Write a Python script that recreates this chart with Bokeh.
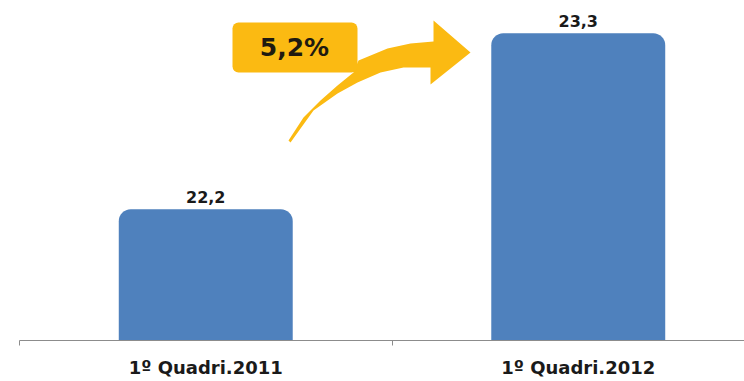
from bokeh.plotting import figure
from bokeh.models import Range1d, FixedTicker, ColumnDataSource, LabelSet, Label
from bokeh.embed import file_html
from bokeh.resources import INLINE
from bokeh.core.properties import value

# ---- data ----
categories = ["1º Quadri.2011", "1º Quadri.2012"]
values = [22.2, 23.3]
value_labels = ["22,2", "23,3"]
growth_label = "5,2%"

W, H = 744, 381
FRAME_H = 340
Y0 = 21.38
PX_PER_UNIT = 160.0
Y1 = Y0 + FRAME_H / PX_PER_UNIT
X_UNIT = 372.5
X0 = -19 / X_UNIT
X1 = (W - 19) / X_UNIT

xs = [i + 0.5 for i in range(len(categories))]

p = figure(width=W, height=H, output_backend="svg", toolbar_location=None,
           x_range=Range1d(X0, X1), y_range=Range1d(Y0, Y1),
           min_border_left=0, min_border_right=0, min_border_top=0,
           min_border_bottom=H - FRAME_H, background_fill_color="white",
           border_fill_color="white")
p.outline_line_color = None
p.xgrid.visible = False
p.ygrid.visible = False
p.yaxis.visible = False

src = ColumnDataSource(dict(x=xs, top=values, lab=value_labels))
p.vbar(x="x", top="top", bottom=Y0, width=0.467, source=src,
       fill_color="#4F81BD", line_color=None, border_radius=(12, 12, 0, 0))

p.add_layout(LabelSet(x="x", y="top", text="lab", source=src,
                      text_align="center", text_baseline="alphabetic", y_offset=6,
                      text_font=value("DejaVu Sans"), text_font_style="bold",
                      text_font_size="16px", text_color="#1a1a1a"))

ax = p.xaxis[0]
ax.ticker = FixedTicker(ticks=xs, minor_ticks=list(range(len(categories) + 1)))
ax.major_label_overrides = {x: c for x, c in zip(xs, categories)}
ax.bounds = (0, len(categories))
ax.axis_line_color = "#8c8c8c"
ax.major_tick_line_color = None
ax.major_tick_out = 0
ax.major_tick_in = 0
ax.minor_tick_line_color = "#8c8c8c"
ax.minor_tick_out = 5
ax.minor_tick_in = 0
ax.major_label_standoff = 11
ax.major_label_text_font = "DejaVu Sans"
ax.major_label_text_font_style = "bold"
ax.major_label_text_font_size = "18px"
ax.major_label_text_color = "#1a1a1a"


def dx(px):
    return X0 + px / X_UNIT


def dy(py):
    return Y1 - py / PX_PER_UNIT


# ---- decorative growth arrow (screen-pixel outline) ----
arrow_px = [(288, 140), (303, 117), (320, 100), (337, 85), (353, 72), (358, 60),
            (387, 48), (410, 43), (433, 41), (433, 20), (470, 52), (430, 84),
            (430, 67), (403, 67), (380, 72), (357, 82), (337, 93), (313, 110),
            (290, 142)]
p.patch([dx(a) for a, b in arrow_px], [dy(b) for a, b in arrow_px],
        fill_color="#FBBA12", line_color=None)

p.quad(left=dx(232), right=dx(357), top=dy(22), bottom=dy(72),
       fill_color="#FBBA12", line_color=None, border_radius=6)
p.add_layout(Label(x=dx(294), y=dy(47), text=growth_label, text_align="center",
                   text_baseline="middle", text_font="DejaVu Sans",
                   text_font_style="bold", text_font_size="25px",
                   text_color="#1f1a10"))

open("out.html", "w").write(file_html(p, INLINE))
